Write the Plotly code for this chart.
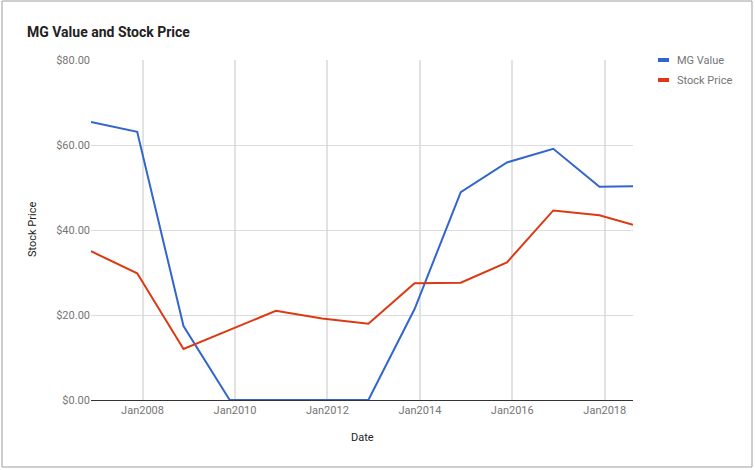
import plotly.graph_objects as go

dates = ["2006-11-20", "2007-11-20", "2008-11-20", "2009-11-20", "2010-11-20",
         "2011-11-20", "2012-11-20", "2013-11-20", "2014-11-20", "2015-11-20",
         "2016-11-20", "2017-11-20", "2018-08-12"]
mg_value = [65.4, 63.1, 17.4, 0.0, 0.0, 0.0, 0.0, 21.4, 48.9, 55.9, 59.1, 50.2, 50.3]
stock_price = [35.0, 29.8, 12.0, 16.5, 21.0, 19.2, 17.95, 27.45, 27.6, 32.4, 44.6, 43.45, 41.25]
series_names = ["MG Value", "Stock Price"]
colors = ["#3366cc", "#dc3912"]
y_ticks = [0, 20, 40, 60, 80]
y_tick_labels = ["$0.00", "$20.00", "$40.00", "$60.00", "$80.00"]

W, H = 755, 470
L, R, T, B = 91, 122, 60, 70
pw, ph = W - L - R, H - T - B

def px(x):
    return (x - L) / pw

def py(y):
    return (H - B - y) / ph

fig = go.Figure()
for name, vals, c in zip(series_names, [mg_value, stock_price], colors):
    fig.add_trace(go.Scatter(x=dates, y=vals, name=name, mode="lines",
                             line=dict(color=c, width=2), showlegend=False))

shapes = []
annotations = []
# outer frame
shapes.append(dict(type="rect", xref="paper", yref="paper",
                   x0=px(2), x1=px(752), y0=py(467), y1=py(1),
                   line=dict(color="#9e9e9e", width=1), layer="below"))
# custom legend
for i, (name, c) in enumerate(zip(series_names, colors)):
    yc = 60 + 20 * i
    shapes.append(dict(type="rect", xref="paper", yref="paper",
                       x0=px(658), x1=px(669), y0=py(yc + 2), y1=py(yc - 2),
                       fillcolor=c, line=dict(width=0)))
    annotations.append(dict(text=name, xref="paper", yref="paper",
                            x=px(675), y=py(yc), xanchor="left", yanchor="middle",
                            showarrow=False, font=dict(size=11, color="#757575",
                                                       family="Roboto")))
# axis titles
annotations.append(dict(text="Date", xref="paper", yref="paper", x=px(362), y=py(437),
                        xanchor="center", yanchor="middle", showarrow=False,
                        font=dict(size=11, color="#222222", family="Roboto")))
annotations.append(dict(text="Stock Price", xref="paper", yref="paper", x=px(32), y=py(230),
                        xanchor="center", yanchor="middle", showarrow=False, textangle=-90,
                        font=dict(size=11, color="#222222", family="Roboto")))

fig.update_layout(
    width=W, height=H,
    margin=dict(l=L, r=R, t=T, b=B, autoexpand=False),
    paper_bgcolor="white", plot_bgcolor="white",
    font=dict(family="Roboto", size=11, color="#757575"),
    title=dict(text="<b>MG Value and Stock Price</b>", xref="container", yref="container",
               x=27 / W, xanchor="left", y=1 - 32 / H, yanchor="middle",
               font=dict(size=14, color="#222222", family="Roboto")),
    shapes=shapes, annotations=annotations,
    xaxis=dict(type="date", range=[dates[0], dates[-1]], tick0="2008-01-01", dtick="M24",
               tickformat="%b%Y", showgrid=True, gridcolor="#e2e2e2", gridwidth=1.6,
               showline=False, zeroline=False, ticks="", ticklabelstandoff=2,
               tickfont=dict(size=11, color="#757575")),
    yaxis=dict(range=[0, 80], tickvals=y_ticks, ticktext=y_tick_labels,
               showgrid=True, gridcolor="#dcdcdc", gridwidth=1,
               zeroline=True, zerolinecolor="#333333", zerolinewidth=1,
               showline=False, ticks="", tickfont=dict(size=11, color="#757575")),
)

fig.write_html("out.html", config={"displayModeBar": False},
               post_script="document.body.style.margin='0';document.body.style.overflow='hidden';")
